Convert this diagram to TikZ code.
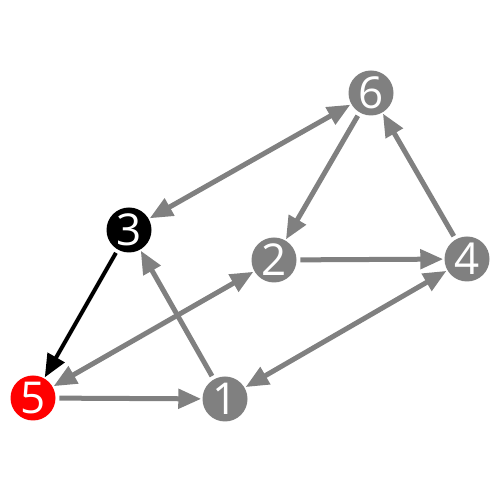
\documentclass[tikz,border=0pt]{standalone}
\usepackage{fontspec}
\setmainfont{Open Sans}
\usetikzlibrary{arrows.meta}

\definecolor{edgegray}{HTML}{808080}
\definecolor{hotred}{HTML}{FF0000}

\begin{document}
\begin{tikzpicture}[>={Triangle[length=0.46cm, width=0.38cm]},
    vertex/.style={circle, fill=edgegray, text=white, inner sep=0pt,
                   minimum size=0.9cm, font=\fontsize{25}{25}\selectfont},
    link/.style={edgegray, line width=0.1cm, shorten >=0.5pt, shorten <=2pt}]

    \useasboundingbox (0,0) rectangle (10,10);

    % Vertices
    \node[vertex] (v6) at (7.42, 8.14) {6};
    \node[vertex, fill=black] (v3) at (2.58, 5.40) {3};
    \node[vertex] (v2) at (5.48, 4.80) {2};
    \node[vertex] (v4) at (9.34, 4.82) {4};
    \node[vertex, fill=hotred] (v5) at (0.66, 2.04) {5};
    \node[vertex] (v1) at (4.50, 2.02) {1};

    % One-way links
    \foreach \a/\b in {v6/v2, v4/v6, v2/v4, v1/v3, v5/v1}
        \draw[link, ->] (\a) -- (\b);

    % Two-way links
    \foreach \a/\b in {v3/v6, v5/v2, v1/v4}
        \draw[link, <->, shorten <=0.5pt] (\a) -- (\b);

    % Highlighted link
    \draw[link, ->, black, line width=0.08cm] (v3) -- (v5);

\end{tikzpicture}
\end{document}
